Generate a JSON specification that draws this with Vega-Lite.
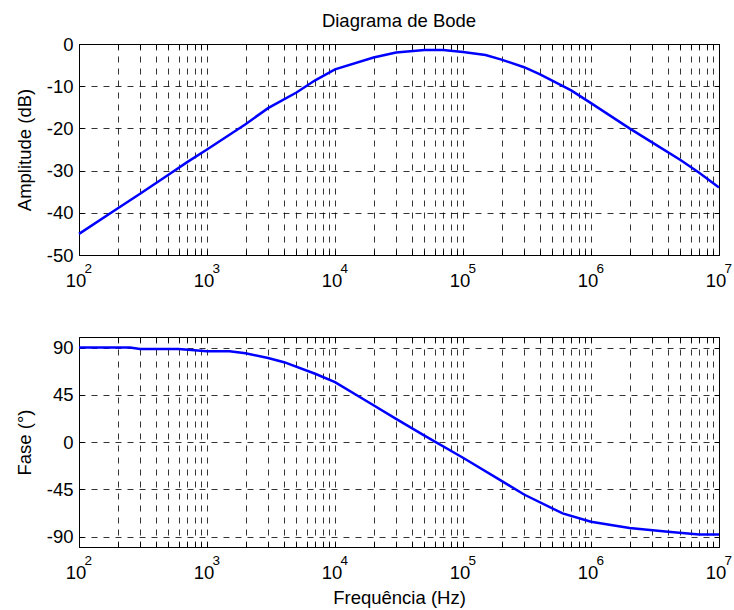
{
  "$schema": "https://vega.github.io/schema/vega-lite/v6.json",
  "padding": {"left": 14, "top": 11, "right": 5, "bottom": 5},
  "spacing": 46,
  "config": {
    "font": "Liberation Sans",
    "view": {"stroke": "#000000", "strokeWidth": 1},
    "axis": {
      "labelFont": "Liberation Sans", "labelFontSize": 18.5, "labelColor": "#000000",
      "titleFont": "Liberation Sans", "titleFontSize": 18.5, "titleFontWeight": "normal", "titleColor": "#000000",
      "domain": false, "gridColor": "#000000", "gridOpacity": 0.8, "gridDash": [6, 6], "gridWidth": 1,
      "tickColor": "#000000", "tickSize": -5, "tickWidth": 1, "labelOverlap": false, "labelFlush": false
    },
    "title": {"font": "Liberation Sans", "fontSize": 18.5, "fontWeight": "normal", "color": "#000000"}
  },
  "datasets": {
    "amp": [
      {"f": 100, "db": -45}, {"f": 200, "db": -39}, {"f": 300, "db": -35.5}, {"f": 500, "db": -31},
      {"f": 700, "db": -28}, {"f": 1000, "db": -25}, {"f": 2000, "db": -19}, {"f": 3000, "db": -15.2},
      {"f": 5000, "db": -11.5}, {"f": 7000, "db": -8.6}, {"f": 10000, "db": -6}, {"f": 20000, "db": -3.2},
      {"f": 30000, "db": -2}, {"f": 50000, "db": -1.4}, {"f": 70000, "db": -1.4}, {"f": 100000, "db": -1.9},
      {"f": 150000, "db": -2.6}, {"f": 200000, "db": -3.7}, {"f": 300000, "db": -5.5}, {"f": 400000, "db": -7.2},
      {"f": 700000, "db": -11}, {"f": 1000000, "db": -14}, {"f": 2000000, "db": -20}, {"f": 3000000, "db": -23.3},
      {"f": 5000000, "db": -27.5}, {"f": 7000000, "db": -30.5}, {"f": 10000000, "db": -34}
    ],
    "phase": [
      {"f": 100, "deg": 90}, {"f": 250, "deg": 90}, {"f": 300, "deg": 88.5}, {"f": 600, "deg": 88.5},
      {"f": 1000, "deg": 86.5}, {"f": 1500, "deg": 86.5}, {"f": 2000, "deg": 84.5}, {"f": 3000, "deg": 80},
      {"f": 4000, "deg": 76}, {"f": 7000, "deg": 65}, {"f": 10000, "deg": 57}, {"f": 20000, "deg": 35},
      {"f": 30000, "deg": 22}, {"f": 50000, "deg": 6}, {"f": 100000, "deg": -15}, {"f": 200000, "deg": -37},
      {"f": 300000, "deg": -50}, {"f": 600000, "deg": -68}, {"f": 1000000, "deg": -76}, {"f": 2000000, "deg": -82},
      {"f": 4000000, "deg": -85.5}, {"f": 7000000, "deg": -88}, {"f": 10000000, "deg": -88}
    ],
    "decades": [
      {"f": 100, "e": "2"}, {"f": 1000, "e": "3"}, {"f": 10000, "e": "4"},
      {"f": 100000, "e": "5"}, {"f": 1000000, "e": "6"}, {"f": 10000000, "e": "7"}
    ]
  },
  "vconcat": [
    {
      "width": 640, "height": 211,
      "title": {"text": "Diagrama de Bode", "anchor": "middle", "offset": -10, "baseline": "alphabetic"},
      "layer": [
        {
          "data": {"name": "amp"},
          "mark": {"type": "line", "color": "#0000ff", "strokeWidth": 2.5},
          "encoding": {
            "x": {"field": "f", "type": "quantitative",
              "scale": {"type": "log", "domain": [100, 10000000], "nice": false},
              "axis": {"orient": "bottom", "title": null, "grid": true, "labelPadding": 21, "labelOffset": -3.5,
                "values": [100,200,300,400,500,600,700,800,900,1000,2000,3000,4000,5000,6000,7000,8000,9000,10000,20000,30000,40000,50000,60000,70000,80000,90000,100000,200000,300000,400000,500000,600000,700000,800000,900000,1000000,2000000,3000000,4000000,5000000,6000000,7000000,8000000,9000000,10000000],
                "labelExpr": "indexof([100,1000,10000,100000,1000000,10000000], datum.value) >= 0 ? '10' : ''"}},
            "y": {"field": "db", "type": "quantitative",
              "scale": {"domain": [-50, 0], "nice": false},
              "axis": {"orient": "left", "title": "Amplitude (dB)", "grid": true, "labelPadding": 11,
                "values": [-50, -40, -30, -20, -10, 0],
                "labelExpr": "replace(datum.label, '−', '-')",
                "titleX": -49, "titleBaseline": "alphabetic"}}
          }
        },
        {
          "data": {"name": "amp"},
          "mark": {"type": "line", "opacity": 0},
          "encoding": {
            "x": {"field": "f", "type": "quantitative",
              "axis": {"orient": "top", "title": null, "grid": false, "labels": false, "maxExtent": 0, "minExtent": 0,
                "values": [100,200,300,400,500,600,700,800,900,1000,2000,3000,4000,5000,6000,7000,8000,9000,10000,20000,30000,40000,50000,60000,70000,80000,90000,100000,200000,300000,400000,500000,600000,700000,800000,900000,1000000,2000000,3000000,4000000,5000000,6000000,7000000,8000000,9000000,10000000]}},
            "y": {"field": "db", "type": "quantitative",
              "axis": {"orient": "right", "title": null, "grid": false, "labels": false, "maxExtent": 0, "minExtent": 0,
                "values": [-50, -40, -30, -20, -10, 0]}}
          }
        },
        {
          "data": {"name": "decades"},
          "mark": {"type": "text", "align": "left", "baseline": "alphabetic", "dx": 5.5, "dy": 17.5, "fontSize": 13.5, "font": "Liberation Sans", "color": "#000000"},
          "encoding": {
            "x": {"field": "f", "type": "quantitative", "axis": null},
            "y": {"datum": -50, "type": "quantitative", "axis": null},
            "text": {"field": "e"}
          }
        }
      ],
      "resolve": {"axis": {"x": "independent", "y": "independent"}}
    },
    {
      "width": 640, "height": 210,
      "layer": [
        {
          "data": {"name": "phase"},
          "mark": {"type": "line", "color": "#0000ff", "strokeWidth": 2.5},
          "encoding": {
            "x": {"field": "f", "type": "quantitative",
              "scale": {"type": "log", "domain": [100, 10000000], "nice": false},
              "axis": {"orient": "bottom", "title": "Frequência (Hz)", "grid": true, "labelPadding": 21, "labelOffset": -3.5,
                "titleY": 41, "titleBaseline": "top",
                "values": [100,200,300,400,500,600,700,800,900,1000,2000,3000,4000,5000,6000,7000,8000,9000,10000,20000,30000,40000,50000,60000,70000,80000,90000,100000,200000,300000,400000,500000,600000,700000,800000,900000,1000000,2000000,3000000,4000000,5000000,6000000,7000000,8000000,9000000,10000000],
                "labelExpr": "indexof([100,1000,10000,100000,1000000,10000000], datum.value) >= 0 ? '10' : ''"}},
            "y": {"field": "deg", "type": "quantitative",
              "scale": {"domain": [-100, 100], "nice": false},
              "axis": {"orient": "left", "title": "Fase (°)", "grid": true, "labelPadding": 11,
                "values": [-90, -45, 0, 45, 90],
                "labelExpr": "replace(datum.label, '−', '-')",
                "titleX": -49, "titleBaseline": "alphabetic"}}
          }
        },
        {
          "data": {"name": "phase"},
          "mark": {"type": "line", "opacity": 0},
          "encoding": {
            "x": {"field": "f", "type": "quantitative",
              "axis": {"orient": "top", "title": null, "grid": false, "labels": false, "maxExtent": 0, "minExtent": 0,
                "values": [100,200,300,400,500,600,700,800,900,1000,2000,3000,4000,5000,6000,7000,8000,9000,10000,20000,30000,40000,50000,60000,70000,80000,90000,100000,200000,300000,400000,500000,600000,700000,800000,900000,1000000,2000000,3000000,4000000,5000000,6000000,7000000,8000000,9000000,10000000]}},
            "y": {"field": "deg", "type": "quantitative",
              "axis": {"orient": "right", "title": null, "grid": false, "labels": false, "maxExtent": 0, "minExtent": 0,
                "values": [-90, -45, 0, 45, 90]}}
          }
        },
        {
          "data": {"name": "decades"},
          "mark": {"type": "text", "align": "left", "baseline": "alphabetic", "dx": 5.5, "dy": 17.5, "fontSize": 13.5, "font": "Liberation Sans", "color": "#000000"},
          "encoding": {
            "x": {"field": "f", "type": "quantitative", "axis": null},
            "y": {"datum": -100, "type": "quantitative", "axis": null},
            "text": {"field": "e"}
          }
        }
      ],
      "resolve": {"axis": {"x": "independent", "y": "independent"}}
    }
  ]
}
